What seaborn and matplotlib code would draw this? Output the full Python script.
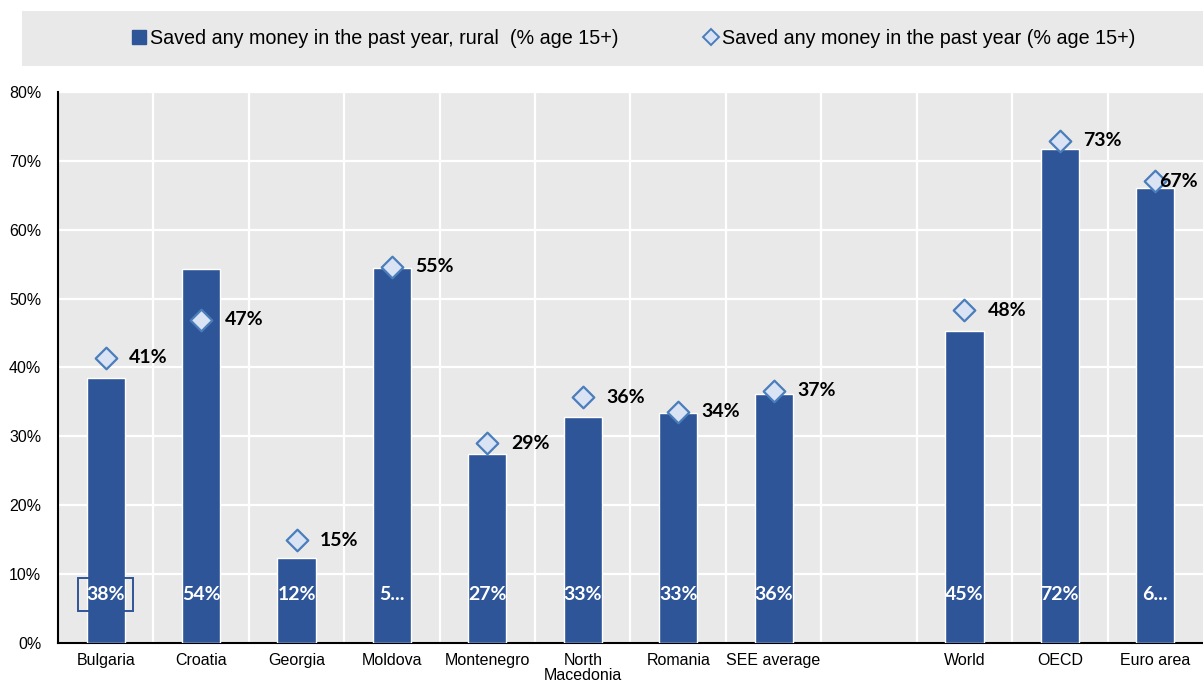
import matplotlib
matplotlib.use("Agg")
import matplotlib.pyplot as plt
from matplotlib.lines import Line2D
from matplotlib.patches import Rectangle
import numpy as np
import pandas as pd
import seaborn as sns

# Categories (empty slot separates SEE economies from the benchmarks)
categories = ["Bulgaria", "Croatia", "Georgia", "Moldova", "Montenegro",
              "North\nMacedonia", "Romania", "SEE average", " ",
              "World", "OECD", "Euro area"]
economies = ["Bulgaria", "Croatia", "Georgia", "Moldova", "Montenegro",
             "North\nMacedonia", "Romania", "SEE average",
             "World", "OECD", "Euro area"]
saved_rural = [38.4, 54.3, 12.3, 54.4, 27.4, 32.8, 33.4, 36.1, 45.3, 71.7, 66.0]
saved_total = [41.4, 46.9, 14.9, 54.6, 29.0, 35.7, 33.6, 36.6, 48.3, 72.9, 67.0]
# bar labels that do not fit inside their bar are shortened
truncated_labels = {"Moldova": "5...", "Euro area": "6..."}
y_ticks = [0, 10, 20, 30, 40, 50, 60, 70, 80]

rural_name = "Saved any money in the past year, rural  (% age 15+)"
total_name = "Saved any money in the past year (% age 15+)"

BAR = "#2e5597"
DIAMOND_FACE = "#dae3f3"
DIAMOND_EDGE = "#4a7ebb"
PANEL = "#e9e9e9"

df = pd.DataFrame({"economy": economies, "rural": saved_rural, "total": saved_total})

sns.set_theme(style="white")
sans = ["Liberation Sans", "DejaVu Sans"]
label_font = ["Lato", "DejaVu Sans"]
plt.rcParams["font.family"] = sans

fig = plt.figure(figsize=(12.03, 6.86), dpi=100)
ax = fig.add_axes([0.0482, 0.0627, 0.9518, 0.8033])
ax.set_facecolor(PANEL)

# Legend band across the top
fig.patches.append(Rectangle((0.0183, 0.9038), 0.9817, 0.0802,
                             transform=fig.transFigure, facecolor=PANEL,
                             edgecolor="none", zorder=0))

sns.barplot(data=df, x="economy", y="rural", order=categories, color=BAR,
            width=0.4, saturation=1, ax=ax, zorder=3)
sns.stripplot(data=df, x="economy", y="total", order=categories, jitter=False,
              marker="D", size=11, color=DIAMOND_FACE, edgecolor=DIAMOND_EDGE,
              linewidth=1.6, ax=ax, zorder=4)

pos = {c: i for i, c in enumerate(categories)}

# Values printed at the foot of each bar
for name, v in zip(economies, saved_rural):
    txt = truncated_labels.get(name, f"{round(v)}%")
    kw = {}
    if name == "Bulgaria":
        kw["bbox"] = dict(boxstyle="square,pad=0.42", facecolor="none",
                          edgecolor=BAR, linewidth=1.4)
    ax.text(pos[name], 7.0, txt, ha="center", va="center", color="white",
            fontsize=14, fontweight="bold", family=label_font, zorder=5, **kw)

# Values next to each diamond
for name, v in zip(economies, saved_total):
    dx = 3 if name == categories[-1] else 17
    ax.annotate(f"{round(v)}%", (pos[name], v), xytext=(dx, 0),
                textcoords="offset points", ha="left", va="center",
                fontsize=14, fontweight="bold", color="black",
                family=label_font, zorder=6, annotation_clip=False)

ax.set_xlim(-0.5, len(categories) - 0.5)
ax.set_ylim(0, 80)
ax.set_yticks(y_ticks)
ax.set_yticklabels([f"{t}%" for t in y_ticks], fontsize=11.5)
ax.set_xticks(range(len(categories)))
ax.set_xticklabels(categories, fontsize=11.5, linespacing=1.0)
ax.set_xticks(np.arange(0.5, len(categories) - 0.5, 1), minor=True)
ax.tick_params(axis="x", which="major", length=0, pad=7, colors="black")
ax.tick_params(axis="x", which="minor", direction="in", length=5, width=1.3,
               color="black")
ax.tick_params(axis="y", direction="in", length=5, width=1.3, color="black",
               pad=12, labelcolor="black")
ax.set_xlabel("")
ax.set_ylabel("")

ax.grid(False)
ax.yaxis.grid(True, color="white", linewidth=1.6, zorder=1)
ax.xaxis.grid(True, which="minor", color="white", linewidth=1.6, zorder=1)
ax.set_axisbelow(True)

for s in ("top", "right"):
    ax.spines[s].set_visible(False)
for s in ("left", "bottom"):
    ax.spines[s].set_visible(True)
    ax.spines[s].set_color("black")
    ax.spines[s].set_linewidth(1.5)

handles = [
    Line2D([], [], linestyle="none", marker="s", markersize=10,
           markerfacecolor=BAR, markeredgecolor=BAR, label=rural_name),
    Line2D([], [], linestyle="none", marker="D", markersize=8,
           markerfacecolor=DIAMOND_FACE, markeredgecolor=DIAMOND_EDGE,
           markeredgewidth=1.4, label=total_name),
]
leg = fig.legend(handles=handles, loc="center", bbox_to_anchor=(0.527, 0.944),
                 ncol=2, frameon=False, fontsize=14.2, handlelength=0.6,
                 handletextpad=0.25, columnspacing=4.4)
for t in leg.get_texts():
    t.set_color("black")

fig.savefig("out.png", dpi=100)
